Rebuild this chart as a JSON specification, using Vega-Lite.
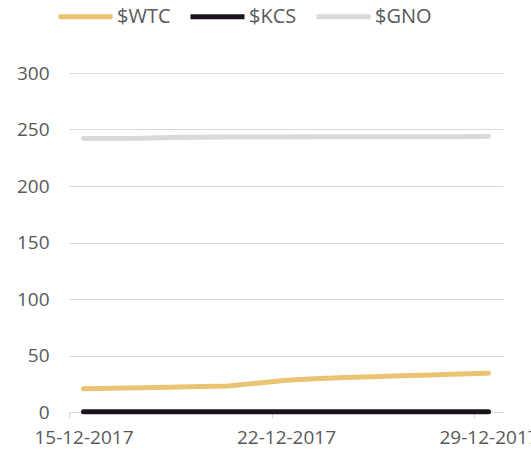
{
  "$schema": "https://vega.github.io/schema/vega-lite/v6.json",
  "autosize": "none",
  "width": 434,
  "height": 339,
  "padding": {"left": 69, "top": 73, "right": 28, "bottom": 45},
  "background": "white",
  "config": {
    "font": "Open Sans",
    "view": {"stroke": null}
  },
  "data": {
    "values": [
      {"date": "15-12-2017", "series": "$WTC", "value": 20.5},
      {"date": "16-12-2017", "series": "$WTC", "value": 21},
      {"date": "17-12-2017", "series": "$WTC", "value": 21.5},
      {"date": "18-12-2017", "series": "$WTC", "value": 22},
      {"date": "19-12-2017", "series": "$WTC", "value": 22.5},
      {"date": "20-12-2017", "series": "$WTC", "value": 23},
      {"date": "21-12-2017", "series": "$WTC", "value": 25.5},
      {"date": "22-12-2017", "series": "$WTC", "value": 28},
      {"date": "23-12-2017", "series": "$WTC", "value": 29.5},
      {"date": "24-12-2017", "series": "$WTC", "value": 30.5},
      {"date": "25-12-2017", "series": "$WTC", "value": 31.3},
      {"date": "26-12-2017", "series": "$WTC", "value": 32},
      {"date": "27-12-2017", "series": "$WTC", "value": 32.8},
      {"date": "28-12-2017", "series": "$WTC", "value": 33.6},
      {"date": "29-12-2017", "series": "$WTC", "value": 34.3},
      {"date": "15-12-2017", "series": "$KCS", "value": 0.3},
      {"date": "16-12-2017", "series": "$KCS", "value": 0.3},
      {"date": "17-12-2017", "series": "$KCS", "value": 0.3},
      {"date": "18-12-2017", "series": "$KCS", "value": 0.3},
      {"date": "19-12-2017", "series": "$KCS", "value": 0.3},
      {"date": "20-12-2017", "series": "$KCS", "value": 0.3},
      {"date": "21-12-2017", "series": "$KCS", "value": 0.3},
      {"date": "22-12-2017", "series": "$KCS", "value": 0.3},
      {"date": "23-12-2017", "series": "$KCS", "value": 0.3},
      {"date": "24-12-2017", "series": "$KCS", "value": 0.3},
      {"date": "25-12-2017", "series": "$KCS", "value": 0.3},
      {"date": "26-12-2017", "series": "$KCS", "value": 0.3},
      {"date": "27-12-2017", "series": "$KCS", "value": 0.3},
      {"date": "28-12-2017", "series": "$KCS", "value": 0.3},
      {"date": "29-12-2017", "series": "$KCS", "value": 0.3},
      {"date": "15-12-2017", "series": "$GNO", "value": 242},
      {"date": "16-12-2017", "series": "$GNO", "value": 242},
      {"date": "17-12-2017", "series": "$GNO", "value": 242.2},
      {"date": "18-12-2017", "series": "$GNO", "value": 243},
      {"date": "19-12-2017", "series": "$GNO", "value": 243.2},
      {"date": "20-12-2017", "series": "$GNO", "value": 243.3},
      {"date": "21-12-2017", "series": "$GNO", "value": 243.4},
      {"date": "22-12-2017", "series": "$GNO", "value": 243.4},
      {"date": "23-12-2017", "series": "$GNO", "value": 243.5},
      {"date": "24-12-2017", "series": "$GNO", "value": 243.5},
      {"date": "25-12-2017", "series": "$GNO", "value": 243.5},
      {"date": "26-12-2017", "series": "$GNO", "value": 243.5},
      {"date": "27-12-2017", "series": "$GNO", "value": 243.5},
      {"date": "28-12-2017", "series": "$GNO", "value": 243.6},
      {"date": "29-12-2017", "series": "$GNO", "value": 244}
    ]
  },
  "mark": {"type": "line", "strokeWidth": 5, "strokeCap": "round", "strokeJoin": "round"},
  "encoding": {
    "x": {
      "field": "date",
      "type": "ordinal",
      "scale": {"type": "point", "padding": 0.5},
      "axis": {
        "title": null,
        "values": ["15-12-2017", "22-12-2017", "29-12-2017"],
        "labelAngle": 0,
        "labelFontSize": 19,
        "labelColor": "#595959",
        "labelPadding": 10,
        "tickOffset": -14.47,
        "labelOffset": 14.47,
        "tickSize": 6,
        "tickColor": "#D9D9D9",
        "domainColor": "#D9D9D9",
        "domainWidth": 1,
        "grid": false,
        "labelOverlap": false
      }
    },
    "y": {
      "field": "value",
      "type": "quantitative",
      "scale": {"domain": [0, 300], "nice": false},
      "axis": {
        "title": null,
        "values": [0, 50, 100, 150, 200, 250, 300],
        "ticks": false,
        "domain": false,
        "grid": true,
        "gridColor": "#D9D9D9",
        "gridWidth": 1,
        "labelFontSize": 19,
        "labelColor": "#595959",
        "labelPadding": 20
      }
    },
    "color": {
      "field": "series",
      "type": "nominal",
      "sort": ["$WTC", "$KCS", "$GNO"],
      "scale": {"domain": ["$WTC", "$KCS", "$GNO"], "range": ["#EAC472", "#1B141E", "#D9D9D9"]},
      "legend": {
        "title": null,
        "orient": "none",
        "direction": "horizontal",
        "legendX": -13,
        "legendY": -86,
        "symbolType": "stroke",
        "symbolSize": 2916,
        "symbolStrokeWidth": 5,
        "labelFontSize": 20,
        "labelColor": "#595959",
        "labelOffset": 2,
        "columnPadding": 9
      }
    }
  }
}
